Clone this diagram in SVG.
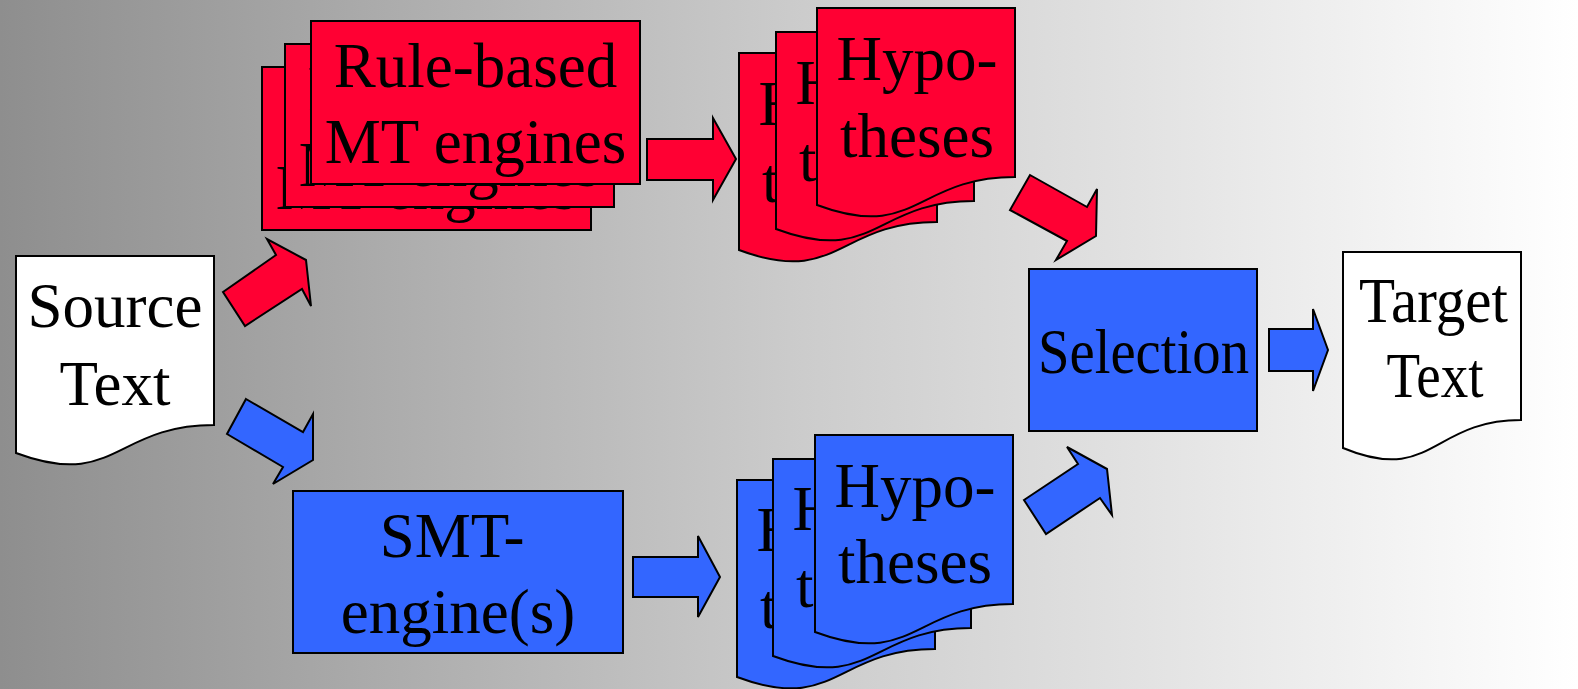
<svg xmlns="http://www.w3.org/2000/svg" width="1578" height="689" viewBox="0 0 1578 689">
<defs>
<linearGradient id="bg" x1="0" y1="0" x2="1" y2="0">
<stop offset="0" stop-color="#8e8e8e"/>
<stop offset="0.5" stop-color="#cbcbcb"/>
<stop offset="1" stop-color="#ffffff"/>
</linearGradient>
<path id="doc" d="M0,0 H198 V169 C99,169 99,234 0,197 Z"/>
<style>
text{font-family:"Liberation Serif","Times New Roman",serif;font-size:63px;fill:#000;text-anchor:middle}
.red{fill:#ff0033;stroke:#000;stroke-width:2}
.blue{fill:#3366ff;stroke:#000;stroke-width:2}
.white{fill:#ffffff;stroke:#000;stroke-width:2}
</style>
</defs>
<rect x="0" y="0" width="1578" height="689" fill="url(#bg)"/>

<g id="source-text">
<use href="#doc" x="16" y="256" class="white"/>
<text x="115" y="327">Source</text>
<text x="115" y="405">Text</text>
</g>

<g id="rule-based-engines">
<rect x="262" y="67" width="329" height="163" class="red"/>
<text x="426.5" y="133">Rule-based</text>
<text x="426.5" y="209">MT engines</text>
<rect x="285" y="44" width="329" height="163" class="red"/>
<text x="449.5" y="110">Rule-based</text>
<text x="449.5" y="186">MT engines</text>
<rect x="311" y="21" width="329" height="163" class="red"/>
<text x="475.5" y="87">Rule-based</text>
<text x="475.5" y="163">MT engines</text>
</g>

<g id="red-hypotheses">
<use href="#doc" x="739" y="53" class="red"/>
<text x="839" y="125">Hypo-</text>
<text x="839" y="202">theses</text>
<use href="#doc" x="776" y="32" class="red"/>
<text x="876" y="104">Hypo-</text>
<text x="876" y="181">theses</text>
<use href="#doc" x="817" y="8" class="red"/>
<text x="917" y="80">Hypo-</text>
<text x="917" y="157">theses</text>
</g>

<g id="smt-engines">
<rect x="293" y="491" width="330" height="162" class="blue"/>
<text x="452" y="557">SMT-</text>
<text x="458" y="633">engine(s)</text>
</g>

<g id="blue-hypotheses">
<use href="#doc" x="737" y="480" class="blue"/>
<text x="837" y="551">Hypo-</text>
<text x="837" y="628">theses</text>
<use href="#doc" x="773" y="459" class="blue"/>
<text x="873" y="530">Hypo-</text>
<text x="873" y="607">theses</text>
<use href="#doc" x="815" y="435" class="blue"/>
<text x="915" y="507">Hypo-</text>
<text x="915" y="583">theses</text>
</g>

<g id="selection">
<rect x="1029" y="269" width="228" height="162" class="blue"/>
<text x="1143.5" y="373" textLength="211" lengthAdjust="spacingAndGlyphs">Selection</text>
</g>

<g id="target-text">
<path d="M1343,252 H1521 V420 C1432,420 1432,485 1343,448 Z" class="white"/>
<text x="1433.5" y="322" textLength="149" lengthAdjust="spacingAndGlyphs">Target</text>
<text x="1435" y="397" textLength="97" lengthAdjust="spacingAndGlyphs">Text</text>
</g>

<g id="connectors">
<polygon class="red" points="223,292 276,255 267,239 306,260 311,306 302,289 245,326"/>
<polygon class="blue" points="246,399 303,432 313,414 313,460 273,484 283,467 227,434"/>
<polygon class="red" points="647,139 713,139 713,118 736,159 713,200 713,180 647,180"/>
<polygon class="blue" points="633,557 698,557 698,536 720,577 698,617 698,597 633,597"/>
<polygon class="red" points="1030,175 1087,207 1097,189 1096,236 1056,260 1067,241 1010,210"/>
<polygon class="blue" points="1024,500 1078,464 1067,447 1107,469 1112,515 1100,498 1046,534"/>
<polygon class="blue" points="1269,329 1313,329 1313,309 1328,350 1313,391 1313,371 1269,371"/>
</g>
</svg>
